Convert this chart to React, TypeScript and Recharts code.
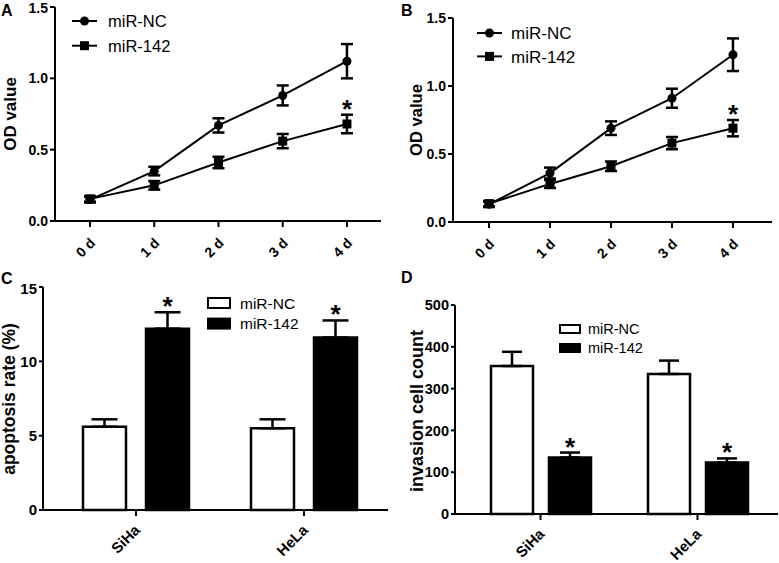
import React from "react";
import {
  LineChart, Line, BarChart, Bar, XAxis, YAxis, ErrorBar, ReferenceDot, LabelList, Legend,
} from "recharts";

const FONT = "'Liberation Sans', Arial, Helvetica, sans-serif";

// shared
const seriesNames = ["miR-NC", "miR-142"];
const days = [0, 1, 2, 3, 4];
const dayTicks = ["0 d", "1 d", "2 d", "3 d", "4 d"];
const cellLines = ["SiHa", "HeLa"];

// A: OD value, cell line 1
const ncA = [0.15, 0.35, 0.67, 0.88, 1.12];
const ncAErr = [0.02, 0.03, 0.05, 0.07, 0.12];
const miA = [0.155, 0.25, 0.41, 0.56, 0.68];
const miAErr = [0.02, 0.03, 0.04, 0.05, 0.065];
const sigA = ["", "", "", "", "*"];

// B: OD value, cell line 2
const ncB = [0.13, 0.36, 0.69, 0.91, 1.23];
const ncBErr = [0.02, 0.04, 0.05, 0.07, 0.12];
const miB = [0.135, 0.28, 0.41, 0.58, 0.69];
const miBErr = [0.02, 0.03, 0.035, 0.045, 0.06];
const sigB = ["", "", "", "", "*"];

// C: apoptosis rate (%)
const ncC = [5.6, 5.5];
const ncCErr = [0.5, 0.6];
const miC = [12.2, 11.6];
const miCErr = [1.1, 1.15];
const sigC = ["*", "*"];

// D: invasion cell count
const ncD = [354, 335];
const ncDErr = [34, 32];
const miD = [135, 123];
const miDErr = [12, 10];
const sigD = ["*", "*"];

const yTicksOD = [0, 0.5, 1.0, 1.5];
const yTicksC = [0, 5, 10, 15];
const yTicksD = [0, 100, 200, 300, 400, 500];

const lineRows = (nc: number[], ncE: number[], mi: number[], miE: number[]) =>
  days.map((d, i) => ({ day: d, nc: nc[i], ncErr: ncE[i], mi: mi[i], miErr: miE[i] }));

const barRows = (nc: number[], ncE: number[], mi: number[], miE: number[]) =>
  cellLines.map((c, i) => ({ cat: c, nc: nc[i], ncErr: [0, ncE[i]], mi: mi[i], miErr: [0, miE[i]] }));

const CircleDot = (p: any) =>
  p.cx == null ? <g key={p.key} /> : <circle key={p.key} cx={p.cx} cy={p.cy} r={4.5} fill="#000" />;
const SquareDot = (p: any) =>
  p.cx == null ? <g key={p.key} /> : <rect key={p.key} x={p.cx - 4.5} y={p.cy - 4.5} width={9} height={9} fill="#000" />;

const rotTick = (labels: (v: any) => string, dx: number, dy: number, fs: number) => (p: any) => (
  <g transform={`translate(${p.x + dx},${p.y + dy})`}>
    <text textAnchor="end" transform="rotate(-45)" fontSize={fs} fontWeight="bold" fontFamily={FONT} fill="#000">
      {labels(p.payload.value)}
    </text>
  </g>
);

const yTitle = (text: string, x: number, y: number, fs: number) => ({
  value: text,
  content: () => (
    <text x={x} y={y} transform={`rotate(-90 ${x} ${y})`} textAnchor="middle" fontSize={fs}
      fontWeight="bold" fontFamily={FONT} fill="#000">{text}</text>
  ),
});

const starText = (x: number, y: number) => (
  <text x={x} y={y} textAnchor="middle" fontSize={26} fontWeight="bold" fontFamily={FONT} fill="#000">*</text>
);

function lineLegend(x: number, y: number, gap: number, fs: number, textX: number) {
  return (
    <Legend
      layout="vertical" align="center" verticalAlign="middle"
      wrapperStyle={{ left: x, top: y, width: 140, height: gap + 24 }}
      content={() => (
        <svg width={140} height={gap + 24}>
          {seriesNames.map((n, i) => {
            const cy = 12 + i * gap;
            return (
              <g key={n}>
                <line x1={0} x2={25} y1={cy} y2={cy} stroke="#000" strokeWidth={2} />
                {i === 0 ? <circle cx={12.5} cy={cy} r={4.5} fill="#000" />
                  : <rect x={8} y={cy - 4.5} width={9} height={9} fill="#000" />}
                <text x={textX} y={cy + fs * 0.36} fontSize={fs} fontFamily={FONT} fill="#000">{n}</text>
              </g>
            );
          })}
        </svg>
      )}
    />
  );
}

function barLegend(x: number, y: number, gap: number, fs: number, rw: number, rh: number, textX: number) {
  return (
    <Legend
      layout="vertical" align="center" verticalAlign="middle"
      wrapperStyle={{ left: x, top: y, width: 130, height: gap + 24 }}
      content={() => (
        <svg width={130} height={gap + 24}>
          {seriesNames.map((n, i) => {
            const cy = 12 + i * gap;
            return (
              <g key={n}>
                <rect x={1} y={cy - rh / 2} width={rw} height={rh} fill={i === 0 ? "#fff" : "#000"}
                  stroke="#000" strokeWidth={2} />
                <text x={textX} y={cy + fs * 0.36} fontSize={fs} fontFamily={FONT} fill="#000">{n}</text>
              </g>
            );
          })}
        </svg>
      )}
    />
  );
}

const axisStyle = { stroke: "#000", strokeWidth: 2 };
const yTickStyle = (fs: number) => ({ fontSize: fs, fontWeight: "bold", fill: "#000", fontFamily: FONT });

function LinePanel(props: {
  rows: any[]; w: number; h: number; margin: any; yW: number; xDomain: [number, number];
  title: any; legend: React.ReactNode; sig: string[]; mi: number[]; miErr: number[];
}) {
  const { rows, w, h, margin, yW, xDomain, title, legend, sig, mi, miErr } = props;
  return (
    <LineChart width={w} height={h} data={rows} margin={margin}>
      <XAxis type="number" dataKey="day" domain={xDomain} ticks={days} allowDataOverflow
        axisLine={axisStyle} tickLine={axisStyle} tickSize={6} height={50} interval={0}
        tick={rotTick((v) => dayTicks[v], 6, 15, 14)} />
      <YAxis domain={[0, 1.5]} ticks={yTicksOD} width={yW} axisLine={axisStyle} tickLine={axisStyle}
        tickSize={5} tickMargin={2} tick={yTickStyle(14)} tickFormatter={(v) => Number(v).toFixed(1)}
        label={title} />
      {legend}
      <Line dataKey="nc" name={seriesNames[0]} stroke="#000" strokeWidth={2} dot={CircleDot}
        activeDot={false} isAnimationActive={false}>
        <ErrorBar dataKey="ncErr" width={6} strokeWidth={2.5} stroke="#000" isAnimationActive={false} />
      </Line>
      <Line dataKey="mi" name={seriesNames[1]} stroke="#000" strokeWidth={2} dot={SquareDot}
        activeDot={false} isAnimationActive={false}>
        <ErrorBar dataKey="miErr" width={6} strokeWidth={2.5} stroke="#000" isAnimationActive={false} />
      </Line>
      {sig.map((s, i) => s ? (
        <ReferenceDot key={i} x={days[i]} y={mi[i] + miErr[i]} r={1}
          shape={(p: any) => starText(p.cx, p.cy + 3)} />
      ) : null)}
    </LineChart>
  );
}

function BarPanel(props: {
  rows: any[]; w: number; h: number; margin: any; yW: number; xH: number; pad: any;
  domain: [number, number]; ticks: number[]; yFs: number; title: any; legend: React.ReactNode;
  barSize: number; barGap: number; cap: number; sig: string[]; miErr: number[];
}) {
  const { rows, w, h, margin, yW, xH, pad, domain, ticks, yFs, title, legend, barSize, barGap, cap, sig, miErr } = props;
  return (
    <BarChart width={w} height={h} data={rows} margin={margin} barSize={barSize} barGap={barGap}>
      <XAxis dataKey="cat" padding={pad} axisLine={axisStyle} tickLine={axisStyle} tickSize={6}
        height={xH} interval={0} tick={rotTick((v) => String(v), 5, 13, 15)} />
      <YAxis domain={domain} ticks={ticks} width={yW} axisLine={axisStyle} tickLine={axisStyle}
        tickSize={4} tickMargin={2} tick={yTickStyle(yFs)} label={title} />
      {legend}
      <Bar dataKey="nc" name={seriesNames[0]} fill="#fff" stroke="#000" strokeWidth={2.5} isAnimationActive={false}>
        <ErrorBar dataKey="ncErr" width={cap} strokeWidth={2.5} stroke="#000" isAnimationActive={false} />
      </Bar>
      <Bar dataKey="mi" name={seriesNames[1]} fill="#000" stroke="#000" strokeWidth={2.5} isAnimationActive={false}>
        <ErrorBar dataKey="miErr" width={cap} strokeWidth={2.5} stroke="#000" isAnimationActive={false} />
        <LabelList dataKey="mi" content={(p: any) => {
          const vb = p.viewBox ?? p;
          const i = p.index;
          if (!sig[i] || !vb || !p.value) return null;
          const per = Math.abs(vb.height) / p.value;
          const top = Math.min(vb.y, vb.y + vb.height) - miErr[i] * per;
          return starText(vb.x + vb.width / 2, top + 3);
        }} />
      </Bar>
    </BarChart>
  );
}

const letter = (t: string, x: number, y: number) => (
  <div style={{ position: "absolute", left: x, top: y, fontSize: 16, fontWeight: "bold", fontFamily: FONT, lineHeight: "16px" }}>{t}</div>
);

export default function App() {
  return (
    <div style={{ position: "absolute", left: 0, top: 0, width: 779, height: 563, background: "#fff", overflow: "hidden" }}>
      <div style={{ position: "absolute", left: 0, top: 0 }}>
        <LinePanel rows={lineRows(ncA, ncAErr, miA, miAErr)} w={390} h={280}
          margin={{ top: 7, right: 9, bottom: 9, left: 0 }} yW={55} xDomain={[-0.545, 4.53]}
          title={yTitle("OD value", 16, 114, 17)} legend={lineLegend(72, 9, 24.7, 16.5, 36)}
          sig={sigA} mi={miA} miErr={miAErr} />
      </div>
      <div style={{ position: "absolute", left: 390, top: 0 }}>
        <LinePanel rows={lineRows(ncB, ncBErr, miB, miBErr)} w={389} h={280}
          margin={{ top: 18, right: 7, bottom: 8, left: 0 }} yW={63} xDomain={[-0.59, 4.64]}
          title={yTitle("OD value", 32, 120, 16.6)} legend={lineLegend(87, 21, 23.4, 17, 34)}
          sig={sigB} mi={miB} miErr={miBErr} />
      </div>
      <div style={{ position: "absolute", left: 0, top: 280 }}>
        <BarPanel rows={barRows(ncC, ncCErr, miC, miCErr)} w={390} h={283}
          margin={{ top: 7, right: 2, bottom: 3, left: 0 }} yW={43} xH={50} pad={{ left: 9, right: 0 }}
          domain={[0, 15]} ticks={yTicksC} yFs={15} title={yTitle("apoptosis rate (%)", 15, 119, 17.5)}
          legend={barLegend(207, 11, 20.6, 15.5, 22, 10, 33)} barSize={43} barGap={20} cap={13}
          sig={sigC} miErr={miCErr} />
      </div>
      <div style={{ position: "absolute", left: 390, top: 280 }}>
        <BarPanel rows={barRows(ncD, ncDErr, miD, miDErr)} w={389} h={283}
          margin={{ top: 25, right: 1, bottom: 2, left: 0 }} yW={65} xH={47} pad={{ left: 7, right: 2 }}
          domain={[0, 500]} ticks={yTicksD} yFs={14.5} title={yTitle("invasion cell count", 33, 131, 18)}
          legend={barLegend(169, 37, 19, 14.5, 20, 8, 29)} barSize={42} barGap={16} cap={10}
          sig={sigD} miErr={miDErr} />
      </div>
      {letter("A", 1, 3)}
      {letter("B", 401, 3)}
      {letter("C", 1, 271)}
      {letter("D", 401, 270)}
    </div>
  );
}
